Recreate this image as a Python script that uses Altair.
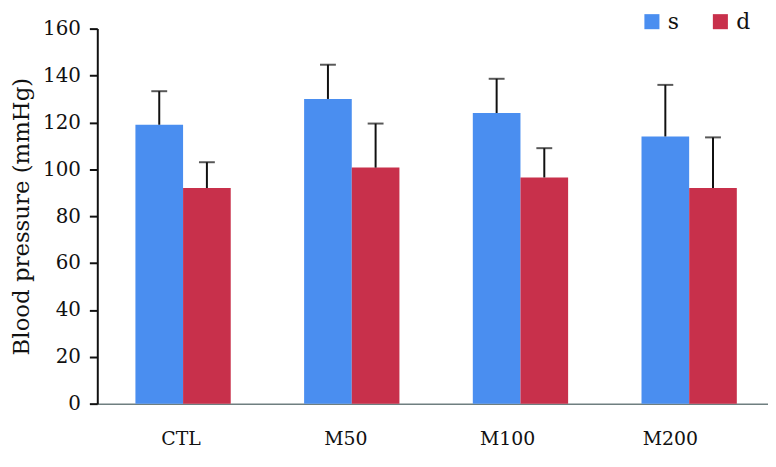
import altair as alt
import pandas as pd

groups = ["CTL", "M50", "M100", "M200"]
series = ["s", "d"]
s_vals = [119, 130, 124, 114]
s_errs = [14.3, 14.6, 14.6, 22]
d_vals = [92, 100.7, 96.5, 92]
d_errs = [11, 18.8, 12.5, 21.6]
colors = ["#4a8ef0", "#c8304b"]
label_shift = [-2, -6, -13, -19]

rows = []
for g, v, e in zip(groups, s_vals, s_errs):
    rows.append({"group": g, "series": "s", "value": v, "upper": v + e})
for g, v, e in zip(groups, d_vals, d_errs):
    rows.append({"group": g, "series": "d", "value": v, "upper": v + e})
df = pd.DataFrame(rows)

FONT = "DejaVu Serif"

offset_cond = {
    "condition": [{"test": f"datum.value === '{g}'", "value": o}
                  for g, o in zip(groups[1:], label_shift[1:])],
    "value": label_shift[0],
}

x = alt.X("group:N", sort=groups, title=None,
          scale=alt.Scale(range=[0, 683], paddingInner=0.435, paddingOuter=0.226),
          axis=alt.Axis(labelAngle=0, ticks=False, domainColor="#6f7f80", domainWidth=1.5,
                        labelPadding=26, labelFontSize=19, labelFont=FONT, labelColor="#111",
                        labelOffset=offset_cond))
xo = alt.XOffset("series:N", sort=series, scale=alt.Scale(paddingInner=0, paddingOuter=0))

base = alt.Chart(df)

bars = base.mark_bar().encode(
    x=x,
    xOffset=xo,
    y=alt.Y("value:Q", title="Blood  pressure (mmHg)",
            scale=alt.Scale(domain=[0, 160], nice=False),
            axis=alt.Axis(values=[0, 20, 40, 60, 80, 100, 120, 140, 160], grid=False,
                          domainColor="#111", domainWidth=2, tickColor="#111", tickWidth=2,
                          tickSize=8, labelPadding=9, labelFontSize=20, labelFont=FONT,
                          labelColor="#111", titleFont=FONT, titleFontSize=23,
                          titleFontWeight="normal", titleColor="#111", titlePadding=9)),
    color=alt.Color("series:N", sort=series, scale=alt.Scale(domain=series, range=colors),
                    legend=alt.Legend(title=None, orient="none", legendX=548, legendY=-18,
                                      direction="horizontal", symbolType="square",
                                      symbolSize=230, symbolStrokeWidth=0, labelFont=FONT,
                                      labelFontSize=22, labelColor="#111", columnPadding=30,
                                      labelOffset=5)),
)

rules = base.mark_rule(color="#111", strokeWidth=2).encode(
    x=x, xOffset=xo, y="value:Q", y2="upper:Q"
)
caps = base.mark_tick(color="#111", thickness=2, size=16, orient="horizontal").encode(
    x=x, xOffset=xo, y="upper:Q"
)

chart = alt.layer(bars, rules, caps).properties(
    width=668, height=378,
    autosize=alt.AutoSizeParams(type="none"),
    padding={"left": 90, "top": 19, "right": 8, "bottom": 55},
    background="white",
).configure_view(stroke=None)

chart.save("out.html", embed_options={"renderer": "svg", "actions": False})
